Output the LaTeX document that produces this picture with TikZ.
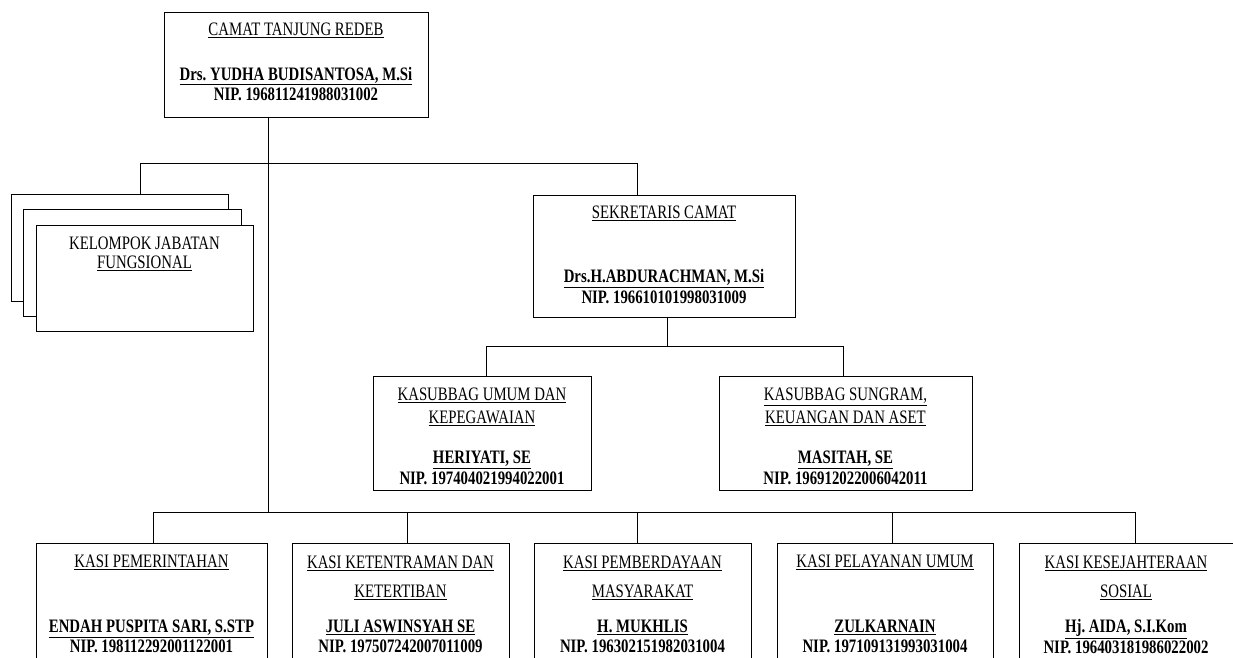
\documentclass[tikz,border=0pt]{standalone}
\usepackage{fontspec}
\setmainfont{Liberation Serif}[FakeStretch=0.78]

\tikzset{
  kotak/.style={draw, line width=1pt, fill=white, inner sep=0pt},
  garis/.style={line width=1pt},
  jab/.style={font=\fontsize{19}{19}\selectfont, align=center, inner sep=0pt},
  nama/.style={font=\fontsize{19}{20.5}\selectfont\bfseries, align=center, inner sep=0pt}
}

\begin{document}
\frenchspacing
\begin{tikzpicture}[x=1pt, y=-1pt]
\useasboundingbox (0,0) rectangle (1233,657);
\clip (0,0) rectangle (1233,657);

\node (camat) [kotak, minimum width=264pt, minimum height=105pt] at (296,64.5) {};
\node (kjf1) [kotak, minimum width=217pt, minimum height=107pt] at (119.5,247.5) {};
\node (kjf2) [kotak, minimum width=218pt, minimum height=107pt] at (132,262.5) {};
\node (kjf3) [kotak, minimum width=217pt, minimum height=106pt] at (144.5,278) {};
\node (sekcam) [kotak, minimum width=262pt, minimum height=122pt] at (664,256) {};
\node (umum) [kotak, minimum width=218pt, minimum height=114pt] at (482,433) {};
\node (sungram) [kotak, minimum width=253pt, minimum height=114pt] at (845.5,433) {};
\node (kasi1) [kotak, minimum width=231pt, minimum height=140pt] at (151.5,613) {};
\node (kasi2) [kotak, minimum width=217pt, minimum height=140pt] at (400.5,613) {};
\node (kasi3) [kotak, minimum width=217pt, minimum height=140pt] at (642.5,613) {};
\node (kasi4) [kotak, minimum width=216pt, minimum height=140pt] at (885,613) {};
\node (kasi5) [kotak, minimum width=231pt, minimum height=140pt] at (1134.5,613) {};

\coordinate (cabang) at (268,163);
\coordinate (bawah) at (268,512);
\coordinate (kiri) at (140,163);
\coordinate (kanan) at (637,163);
\coordinate (tengah) at (667,346);
\coordinate (sub1) at (486,346);
\coordinate (sub2) at (843,346);
\coordinate (t1) at (153,512);
\coordinate (t2) at (407,512);
\coordinate (t3) at (637,512);
\coordinate (t4) at (892,512);
\coordinate (t5) at (1135,512);

\draw[garis] (camat.south -| cabang) -- (bawah);
\draw[garis] (kjf1.north -| kiri) -- (kiri) -- (kanan) -- (sekcam.north -| kanan);
\draw[garis] (sekcam.south -| tengah) -- (tengah);
\draw[garis] (umum.north -| sub1) -- (sub1) -- (sub2) -- (sungram.north -| sub2);
\draw[garis] (kasi1.north -| t1) -- (t1) -- (t5) -- (kasi5.north -| t5);
\foreach \i in {2,3,4}
  \draw[garis] (t\i) -- (kasi\i.north -| t\i);

\node (camat-j) [jab] at (296,30) {\underline{CAMAT TANJUNG REDEB}};
\node (camat-n) [nama] at (296,84) {\underline{Drs. YUDHA BUDISANTOSA, M.Si}\\NIP. 196811241988031002};

\node (kjf-j) [jab] at (144.5,254) {KELOMPOK JABATAN\\\underline{FUNGSIONAL}};

\node (sekcam-j) [jab] at (664,213) {\underline{SEKRETARIS CAMAT}};
\node (sekcam-n) [nama] at (664,286.5) {\underline{Drs.H.ABDURACHMAN, M.Si}\\NIP. 196610101998031009};

\node (umum-j) [jab, font=\fontsize{19}{23}\selectfont] at (482,407) {\underline{KASUBBAG UMUM DAN}\\\underline{KEPEGAWAIAN}};
\node (umum-n) [nama] at (482,468) {\underline{HERIYATI, SE}\\NIP. 197404021994022001};
\node (sungram-j) [jab, font=\fontsize{19}{23}\selectfont] at (845.5,407) {\underline{KASUBBAG SUNGRAM,}\\\underline{KEUANGAN DAN ASET}};
\node (sungram-n) [nama] at (845.5,468) {\underline{MASITAH, SE}\\NIP. 196912022006042011};

\node (kasi1-j) [jab] at (151.5,562) {\underline{KASI PEMERINTAHAN}};
\node (kasi1-n) [nama] at (151.5,636.5) {\underline{ENDAH PUSPITA SARI, S.STP}\\NIP. 198112292001122001};
\node (kasi2-j) [jab, font=\fontsize{19}{29}\selectfont] at (400.5,578) {\underline{KASI KETENTRAMAN DAN}\\\underline{KETERTIBAN}};
\node (kasi2-n) [nama] at (400.5,636.5) {\underline{JULI ASWINSYAH SE}\\NIP. 197507242007011009};
\node (kasi3-j) [jab, font=\fontsize{19}{29}\selectfont] at (642.5,578) {\underline{KASI PEMBERDAYAAN}\\\underline{MASYARAKAT}};
\node (kasi3-n) [nama] at (642.5,636.5) {\underline{H. MUKHLIS}\\NIP. 196302151982031004};
\node (kasi4-j) [jab] at (885,562) {\underline{KASI PELAYANAN UMUM}};
\node (kasi4-n) [nama] at (885,636.5) {\underline{ZULKARNAIN}\\NIP. 197109131993031004};
\node (kasi5-j) [jab, font=\fontsize{19}{29}\selectfont] at (1126,578) {\underline{KASI KESEJAHTERAAN}\\\underline{SOSIAL}};
\node (kasi5-n) [nama] at (1126,636.5) {\underline{Hj. AIDA, S.I.Kom}\\NIP. 196403181986022002};
\end{tikzpicture}
\end{document}
